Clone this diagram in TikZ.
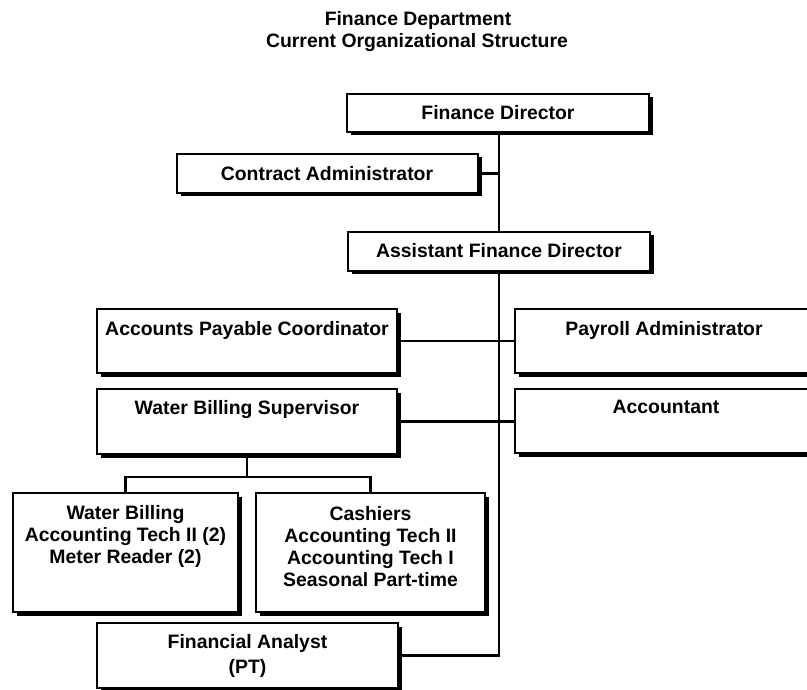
\documentclass[tikz,border=0pt]{standalone}
\usepackage{fontspec}
\setmainfont{Liberation Sans}
\usetikzlibrary{shadows}

% box given by left, top, right, bottom (y grows downward)
\newcommand\placebox[5]{%
  \node[orgbox, minimum width={(#4-#2)*1pt}, minimum height={(#5-#3)*1pt}]
    (#1) at ({(#2+#4)/2},{(#3+#5)/2}) {};}

\begin{document}
\begin{tikzpicture}[x=1pt,y=-1pt,
  orgbox/.style={draw, line width=2.2pt, fill=white, inner sep=0pt,
    drop shadow={shadow xshift=3.5pt, shadow yshift=-3.5pt, opacity=1, fill=black}},
  lbl/.style={font=\bfseries\fontsize{19.4}{22}\selectfont, align=center, inner sep=0pt},
  link/.style={line width=2.4pt}]
\useasboundingbox (0,0) rectangle (807,690);
\clip (0,0) rectangle (807,690);

% title
\node[lbl] (title1) at (418,20) {Finance Department};
\node[lbl] (title2) at (417,43) {Current Organizational Structure};

% boxes
\placebox{fd}{347}{94}{649}{132}
\placebox{ca}{177}{154}{478}{193}
\placebox{afd}{348}{232}{650}{271}
\placebox{apc}{97}{309}{397}{373}
\placebox{wbs}{97}{389}{397}{454}
\placebox{pay}{515}{309}{813}{373}
\placebox{acc}{515}{389}{813}{453}
\placebox{wb}{13}{493}{238}{612}
\placebox{cash}{256}{493}{485}{612}
\placebox{fa}{97}{623}{398}{688}

% labels
\node[lbl] (fdt) at (498,113) {Finance Director};
\node[lbl] (cat) at (327,174) {Contract Administrator};
\node[lbl] (afdt) at (499,251) {Assistant Finance Director};
\node[lbl] (apct) at (247,330) {Accounts Payable Coordinator};
\node[lbl] (wbst) at (247,410) {Water Billing Supervisor};
\node[lbl] (payt) at (664,330) {Payroll Administrator};
\node[lbl] (acct) at (666,407) {Accountant};
\node[lbl] (wbt) at (125.5,536) {Water Billing\\Accounting Tech II (2)\\Meter Reader (2)};
\node[lbl] (casht) at (370.5,547) {Cashiers\\Accounting Tech II\\Accounting Tech I\\Seasonal Part-time};
\node[lbl] (fat) at (247.5,655.5) {Financial Analyst\\[3pt](PT)};

% connectors
\coordinate (spine) at (499,0);
\coordinate (bus) at (0,477);
\draw[link] (fd.south -| spine) -- (afd.north -| spine);
\draw[link] (ca.east) -- (ca.east -| spine);
\draw[link] (afd.south -| spine) -- (fa.east -| spine) -- (fa.east);
\draw[link] (apc.east) -- (apc.east -| pay.west);
\draw[link] (wbs.east) -- (wbs.east -| acc.west);
\draw[link] (wbs.south) -- (wbs.south |- bus);
\draw[link] (wb.north) -- (wb.north |- bus) -- (cash.north |- bus) -- (cash.north);
\end{tikzpicture}
\end{document}
